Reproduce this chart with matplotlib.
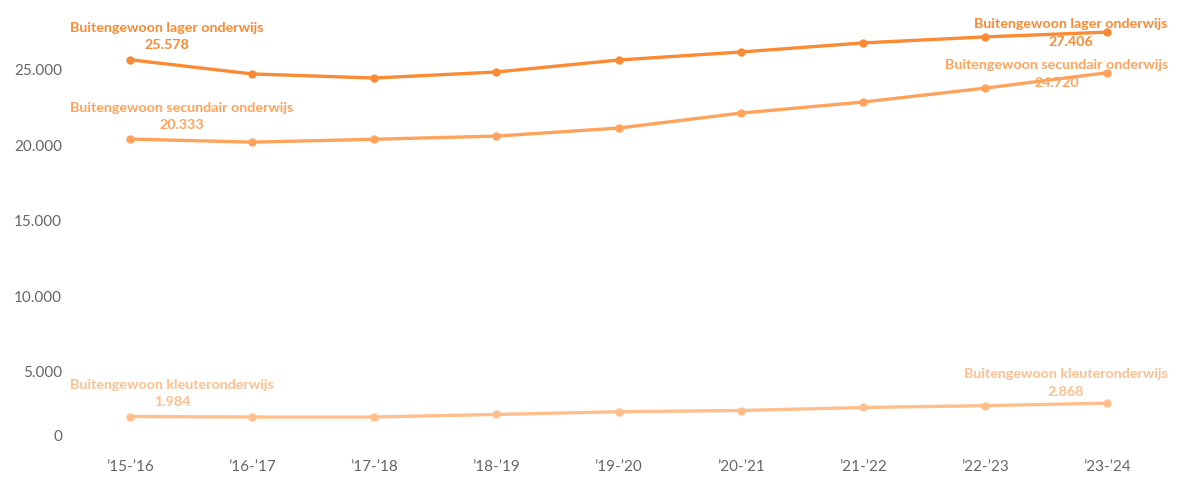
import matplotlib
matplotlib.use("Agg")
import matplotlib.pyplot as plt
from matplotlib.transforms import ScaledTranslation

years = ["\u201915-\u201916", "\u201916-\u201917", "\u201917-\u201918", "\u201918-\u201919",
         "\u201919-\u201920", "\u201920-\u201921", "\u201921-\u201922", "\u201922-\u201923",
         "\u201923-\u201924"]
lager = [25578, 24640, 24370, 24770, 25560, 26090, 26690, 27090, 27406]
secundair = [20333, 20130, 20320, 20530, 21060, 22050, 22780, 23700, 24720]
kleuter = [1984, 1950, 1950, 2120, 2300, 2380, 2580, 2700, 2868]

names = ["Buitengewoon lager onderwijs", "Buitengewoon secundair onderwijs",
         "Buitengewoon kleuteronderwijs"]
series = [lager, secundair, kleuter]
colors = ["#FA8A33", "#FFA35C", "#FFBF8D"]
yticks = [0, 5000, 10000, 15000, 20000, 25000]
ytick_labels = ["0", "5.000", "10.000", "15.000", "20.000", "25.000"]

def fmt(v):
    return f"{v:,}".replace(",", ".")

W, H = 1192, 489
fig = plt.figure(figsize=(W / 100, H / 100), dpi=100)
ax_left, ax_right, ax_top, ax_bottom = 69, 1168, 0, 453
ax = fig.add_axes([ax_left / W, (H - ax_bottom) / H, (ax_right - ax_left) / W,
                   (ax_bottom - ax_top) / H])

x = list(range(len(years)))
for vals, c in zip(series, colors):
    ax.plot(x, vals, color=c, lw=2.4, marker="o", ms=5, solid_capstyle="round", zorder=3)

ax.set_xlim(-0.5, len(years) - 0.5)
zero_px, top_px = 447.5, 69.5
px_per_unit = (zero_px - top_px) / 25000
ax.set_ylim(-(ax_bottom - zero_px) / px_per_unit, zero_px / px_per_unit)

for s in ax.spines.values():
    s.set_visible(False)
ax.set_xticks(x)
ax.set_xticklabels(years)
ax.set_yticks(yticks)
ax.set_yticklabels(ytick_labels)
ax.tick_params(axis="both", length=0, labelcolor="#666666", labelsize=11)
ax.tick_params(axis="x", pad=5)
ax.tick_params(axis="y", pad=5)
for t in ax.get_xticklabels() + ax.get_yticklabels():
    t.set_fontfamily("Lato")
lbl0 = ax.get_yticklabels()[0]
lbl0.set_transform(lbl0.get_transform() + ScaledTranslation(0, 12 / 100, fig.dpi_scale_trans))

# label offsets in pixels (dx, dy) relative to the first / last point
left_off = [(-60, 24.5), (-60, 23.5), (-60, 24)]
right_off = [(61, 0), (61, 0), (61, 21.5)]
for name, vals, c, lo, ro in zip(names, series, colors, left_off, right_off):
    ax.annotate(f"{name}\n{fmt(vals[0])}", xy=(x[0], vals[0]),
                xytext=(lo[0] * 0.72, lo[1] * 0.72), textcoords="offset points",
                ha="left", va="center", multialignment="center", color=c,
                fontsize=10.3, fontweight="bold", fontfamily="Lato", linespacing=1.5,
                zorder=4)
    ax.annotate(f"{name}\n{fmt(vals[-1])}", xy=(x[-1], vals[-1]),
                xytext=(ro[0] * 0.72, ro[1] * 0.72), textcoords="offset points",
                ha="right", va="center", multialignment="center", color=c,
                fontsize=10.3, fontweight="bold", fontfamily="Lato", linespacing=1.6,
                zorder=4, annotation_clip=False)

fig.savefig("out.png", dpi=100, facecolor="white")
